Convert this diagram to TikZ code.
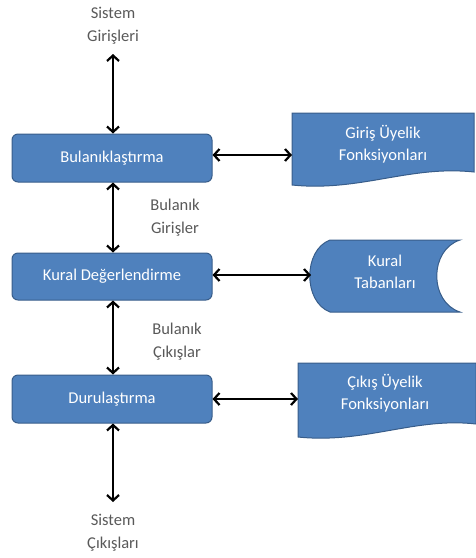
\documentclass[tikz,border=0pt]{standalone}
\usepackage{fontspec}
\setmainfont{Carlito}
\usetikzlibrary{arrows.meta}
\definecolor{boxfill}{HTML}{4F81BD}
\definecolor{boxline}{HTML}{385D8A}
\definecolor{lbl}{HTML}{595959}
\begin{document}
\begin{tikzpicture}[x=1pt,y=-1pt,
  procbox/.style={draw=boxline,line width=1pt,fill=boxfill,rounded corners=6pt,
    minimum width=200pt,minimum height=48pt,text=white,font=\fontsize{16.5}{20}\selectfont},
  shapefill/.style={draw=boxline,line width=1pt,fill=boxfill},
  intext/.style={text=white,align=center,font=\fontsize{16.5}{22.5}\selectfont},
  sidelbl/.style={text=lbl,align=center,font=\fontsize{16.5}{23}\selectfont},
  conn/.style={line width=2.2pt,{Straight Barb[length=5.5pt,width=12pt]}-{Straight Barb[length=5.5pt,width=12pt]}}]
\useasboundingbox (0,0) rectangle (475,558);

% process boxes
\node[procbox] (fuzz) at (112,158) {Bulanıklaştırma};
\node[procbox,minimum height=47pt] (rule) at (112,276.5) {Kural Değerlendirme};
\node[procbox] (defuzz) at (112,399) {Durulaştırma};

% document shape: Giriş Üyelik Fonksiyonları
\path[shapefill] (292,113) -- (474,113) -- (474,172)
  .. controls (410,165) and (360,192) .. (292,185) -- cycle;
\node[intext] (giris) at (383,144) {Giriş Üyelik\\Fonksiyonları};
\coordinate (girisL) at (292,155);

% stored data shape: Kural Tabanları
\path[shapefill] (330,240) -- (460,240)
  .. controls (429,250) and (429,302) .. (460,312) -- (330,312)
  .. controls (303,302) and (303,250) .. (330,240) -- cycle;
\node[intext] (kural) at (385,272) {Kural\\Tabanları};
\coordinate (kuralL) at (311,275);

% document shape: Çıkış Üyelik Fonksiyonları
\path[shapefill] (298,363) -- (476,363) -- (476,424)
  .. controls (415,417) and (365,444) .. (298,437) -- cycle;
\node[intext] (cikis) at (385,393) {Çıkış Üyelik\\Fonksiyonları};
\coordinate (cikisL) at (298,399);

% side labels
\node[sidelbl] (sin) at (113,26) {Sistem\\Girişleri};
\node[sidelbl] (bg) at (175,218) {Bulanık\\Girişler};
\node[sidelbl] (bc) at (177,342) {Bulanık\\Çıkışlar};
\node[sidelbl] (sout) at (113,533) {Sistem\\Çıkışları};
\coordinate (inTop) at (113,54);
\coordinate (outBot) at (113,502);

% connectors
\draw[conn] (inTop) -- (fuzz.north -| inTop);
\draw[conn] (fuzz.south -| inTop) -- (rule.north -| inTop);
\draw[conn] (rule.south -| inTop) -- (defuzz.north -| inTop);
\draw[conn] (defuzz.south -| inTop) -- (outBot);
\draw[conn] (fuzz.east |- girisL) -- (girisL);
\draw[conn] (rule.east |- kuralL) -- (kuralL);
\draw[conn] (defuzz.east |- cikisL) -- (cikisL);
\end{tikzpicture}
\end{document}
